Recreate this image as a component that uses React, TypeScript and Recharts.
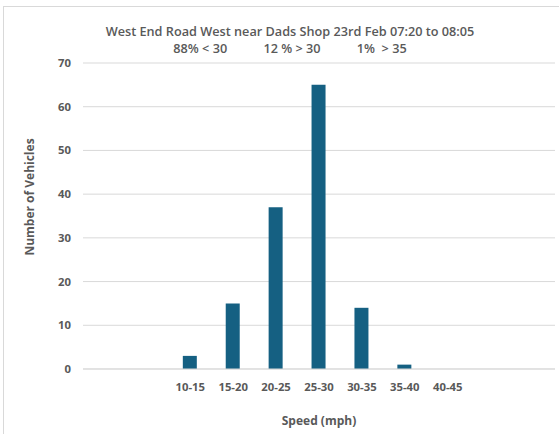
import React from "react";
import { BarChart, Bar, XAxis, YAxis, CartesianGrid, Label } from "recharts";

// speed bands (mph); the empty ones have no label in the original
const speedBands: string[] = ["0-5", "5-10", "10-15", "15-20", "20-25", "25-30", "30-35", "35-40", "40-45", "45-50", "50-55"];
const vehicleCounts: (number | null)[] = [null, null, 3, 15, 37, 65, 14, 1, 0, null, null];
const shownLabels: string[] = ["10-15", "15-20", "20-25", "25-30", "30-35", "35-40", "40-45"];
const yTicks: number[] = [0, 10, 20, 30, 40, 50, 60, 70];

const titleLine1 = "West End Road West near Dads Shop 23rd Feb 07:20 to 08:05";
const titleLine2 = "88% < 30           12 % > 30           1%  > 35";

const data = speedBands.map((band, i) => ({ band, count: vehicleCounts[i] }));

const TEXT = "#595959";
const FONT = "'Open Sans', sans-serif";

const App: React.FC = () => (
  <div style={{ position: "absolute", left: 0, top: 0, width: 559, height: 434, background: "#fff", fontFamily: FONT }}>
    {/* chart frame */}
    <div style={{ position: "absolute", left: 3, top: 6, width: 600, height: 500, border: "1px solid #d9d9d9" }} />
    <div
      style={{
        position: "absolute",
        left: 0,
        width: 580,
        top: 23,
        textAlign: "center",
        color: TEXT,
        fontSize: 12.7,
        fontWeight: 600,
        lineHeight: "17px",
        whiteSpace: "pre",
      }}
    >
      {titleLine1}
      {"\n"}
      {titleLine2}
    </div>
    {/* y axis title */}
    <div
      style={{
        position: "absolute",
        left: 29,
        top: 197,
        transform: "translate(-50%, -50%) rotate(-90deg)",
        color: TEXT,
        fontSize: 12,
        fontWeight: 700,
        whiteSpace: "nowrap",
      }}
    >
      Number of Vehicles
    </div>
    <BarChart
      width={559}
      height={434}
      data={data}
      margin={{ top: 63, right: 4, bottom: 10, left: 23 }}
      style={{ position: "absolute", left: 0, top: 0 }}
    >
      <CartesianGrid vertical={false} stroke="#d9d9d9" />
      <XAxis
        dataKey="band"
        axisLine={{ stroke: "#d9d9d9" }}
        tickLine={false}
        height={55}
        tick={{ fill: TEXT, fontSize: 11.3, fontWeight: 700, fontFamily: FONT }}
        tickFormatter={(v: string) => (shownLabels.includes(v) ? v : "")}
        interval={0}
        tickMargin={8}
      >
        <Label value="Speed (mph)" position="insideBottom" offset={-1} fill={TEXT} fontSize={12} fontWeight={700} fontFamily={FONT} />
      </XAxis>
      <YAxis
        domain={[0, 70]}
        ticks={yTicks}
        axisLine={false}
        tickLine={false}
        width={60}
        tick={{ fill: TEXT, fontSize: 11.3, fontWeight: 700, fontFamily: FONT }}
        tickMargin={6}
      />
      <Bar dataKey="count" fill="#156082" barSize={14} isAnimationActive={false} />
    </BarChart>
  </div>
);

export default App;
